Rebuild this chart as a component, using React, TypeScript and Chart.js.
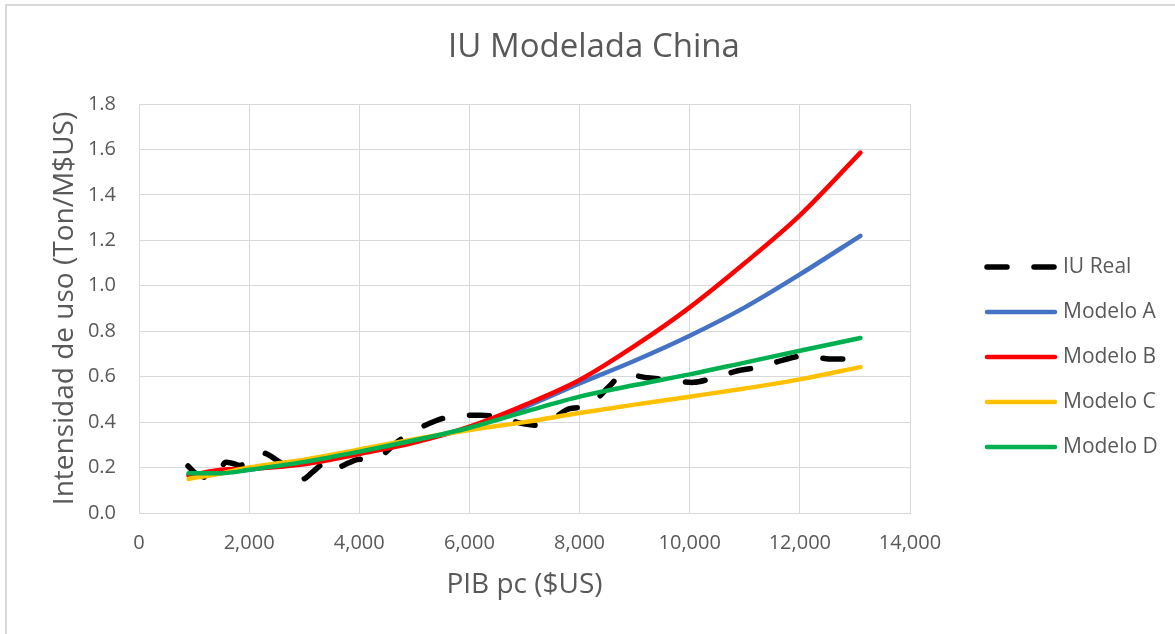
import React, { useEffect, useRef } from 'react';
import { Chart, registerables } from 'chart.js';

Chart.register(...registerables);

// ---- Data ----
const iuRealX = [
  890, 1000, 1100, 1250, 1420, 1560, 1700, 1850, 2000, 2240, 2500, 2750, 2980, 3150, 3350,
  3530, 3650, 3800, 3960, 4330, 4690, 4960, 5380, 5710, 6200, 6560, 6850, 7110, 7350, 7800,
  8160, 8530, 8780, 9240, 9600, 10070, 10440, 10890, 11290, 11710, 12070, 12530, 12930, 13100,
];
const iuRealY = [
  0.207, 0.18, 0.165, 0.155, 0.16, 0.222, 0.218, 0.21, 0.235, 0.265, 0.233, 0.19, 0.15, 0.18, 0.22,
  0.235, 0.205, 0.22, 0.235, 0.242, 0.313, 0.357, 0.405, 0.427, 0.43, 0.423, 0.4, 0.388, 0.388, 0.458,
  0.471, 0.555, 0.608, 0.595, 0.586, 0.575, 0.595, 0.627, 0.643, 0.674, 0.692, 0.678, 0.678, 0.675,
];

const modelX = [900, 1500, 2000, 3000, 4000, 5000, 6000, 7000, 8000, 9000, 10000, 11000, 12000, 13100];
const modeloA = [0.17, 0.18, 0.19, 0.225, 0.27, 0.315, 0.375, 0.465, 0.57, 0.67, 0.78, 0.905, 1.05, 1.22];
const modeloB = [0.165, 0.19, 0.195, 0.215, 0.26, 0.31, 0.38, 0.475, 0.585, 0.735, 0.905, 1.1, 1.31, 1.586];
const modeloC = [0.15, 0.175, 0.2, 0.235, 0.28, 0.325, 0.365, 0.4, 0.44, 0.477, 0.512, 0.548, 0.588, 0.642];
const modeloD = [0.175, 0.175, 0.19, 0.225, 0.27, 0.32, 0.375, 0.445, 0.512, 0.563, 0.61, 0.662, 0.714, 0.77];

const chartTitle = 'IU Modelada China';
const seriesLabels = ['IU Real', 'Modelo A', 'Modelo B', 'Modelo C', 'Modelo D'];
const seriesColors = ['#000000', '#4472C4', '#FF0000', '#FFC000', '#00B050'];

const xMin = 0;
const xMax = 14000;
const xStep = 2000;
const yMin = 0;
const yMax = 1.8;
const yStep = 0.2;

const TEXT = '#595959';
const GRID = '#d9d9d9';
const FONT = "'Open Sans', sans-serif";

const pts = (xs: number[], ys: number[]) => xs.map((x, i) => ({ x, y: ys[i] }));

const decorPlugin = {
  id: 'decor',
  beforeDraw(chart: any) {
    const ctx = chart.ctx;
    ctx.save();
    ctx.fillStyle = '#ffffff';
    ctx.fillRect(0, 0, chart.width, chart.height);
    ctx.strokeStyle = GRID;
    ctx.lineWidth = 2;
    ctx.beginPath();
    ctx.moveTo(6, chart.height);
    ctx.lineTo(6, 5);
    ctx.lineTo(chart.width, 5);
    ctx.stroke();
    ctx.restore();
  },
  afterDraw(chart: any) {
    const ctx = chart.ctx;
    const area = chart.chartArea;
    ctx.save();
    // title, centred on the whole frame
    ctx.fillStyle = TEXT;
    ctx.font = `33px ${FONT}`;
    ctx.textBaseline = 'middle';
    ctx.textAlign = 'center';
    ctx.fillText(chartTitle, 594, 48);

    // legend
    const x0 = area.right + 77;
    const x1 = area.right + 145;
    const top = 267;
    const gap = 45;
    seriesLabels.forEach((label, i) => {
      const y = top + i * gap;
      ctx.beginPath();
      ctx.strokeStyle = seriesColors[i];
      ctx.lineCap = 'round';
      if (i === 0) {
        ctx.lineWidth = 5.5;
        ctx.setLineDash([20, 27]);
      } else {
        ctx.lineWidth = 4.5;
        ctx.setLineDash([]);
      }
      ctx.moveTo(x0, y);
      ctx.lineTo(x1, y);
      ctx.stroke();
      ctx.setLineDash([]);
      ctx.fillStyle = TEXT;
      ctx.font = `21px ${FONT}`;
      ctx.textBaseline = 'middle';
      ctx.textAlign = 'left';
      ctx.fillText(label, x1 + 8, y);
    });
    ctx.restore();
  },
};

export default function App() {
  const ref = useRef<HTMLCanvasElement | null>(null);

  useEffect(() => {
    if (!ref.current) return;
    const modelSets = [modeloA, modeloB, modeloC, modeloD];
    const datasets: any[] = [
      {
        label: seriesLabels[0],
        data: pts(iuRealX, iuRealY),
        borderColor: seriesColors[0],
        backgroundColor: seriesColors[0],
        borderWidth: 5.5,
        borderDash: [20, 27],
        borderCapStyle: 'round',
        borderJoinStyle: 'round',
        pointRadius: 0,
        showLine: true,
        tension: 0.3,
        order: 5,
      },
      ...modelSets.map((ys, i) => ({
        label: seriesLabels[i + 1],
        data: pts(modelX, ys),
        borderColor: seriesColors[i + 1],
        backgroundColor: seriesColors[i + 1],
        borderWidth: 4.5,
        borderCapStyle: 'round',
        borderJoinStyle: 'round',
        pointRadius: 0,
        showLine: true,
        cubicInterpolationMode: 'monotone',
        order: 4 - i,
      })),
    ];

    const chart = new Chart(ref.current, {
      type: 'scatter',
      data: { datasets },
      plugins: [decorPlugin],
      options: {
        responsive: false,
        animation: false,
        layout: { padding: { top: 104, right: 265, bottom: 0, left: 0 } },
        plugins: {
          legend: { display: false },
          tooltip: { enabled: false },
          title: { display: false },
        },
        scales: {
          x: {
            type: 'linear',
            min: xMin,
            max: xMax,
            afterFit: (s: any) => { s.height = 121; },
            ticks: {
              stepSize: xStep,
              color: TEXT,
              font: { family: FONT, size: 20 },
              padding: 18,
              callback: (v: any) => Number(v).toLocaleString('en-US'),
            },
            grid: { color: GRID, lineWidth: 1, drawTicks: false },
            border: { color: GRID, width: 1 },
            title: {
              display: true,
              text: 'PIB pc ($US)',
              color: TEXT,
              font: { family: FONT, size: 28 },
              padding: { top: 0, bottom: 32 },
            },
          },
          y: {
            type: 'linear',
            min: yMin,
            max: yMax,
            afterFit: (s: any) => { s.width = 139; },
            ticks: {
              stepSize: yStep,
              color: TEXT,
              font: { family: FONT, size: 20 },
              padding: 23,
              callback: (v: any) => Number(v).toFixed(1),
            },
            grid: { color: GRID, lineWidth: 1, drawTicks: false },
            border: { color: GRID, width: 1 },
            title: {
              display: true,
              text: 'Intensidad de uso (Ton/M$US)',
              color: TEXT,
              font: { family: FONT, size: 28 },
              padding: { top: 48, bottom: 0 },
            },
          },
        },
      } as any,
    });
    return () => chart.destroy();
  }, []);

  return (
    <div style={{ position: 'fixed', left: 0, top: 0, width: 1175, height: 634, background: '#fff' }}>
      <canvas ref={ref} width={1175} height={634} style={{ display: 'block', width: 1175, height: 634 }} />
    </div>
  );
}
